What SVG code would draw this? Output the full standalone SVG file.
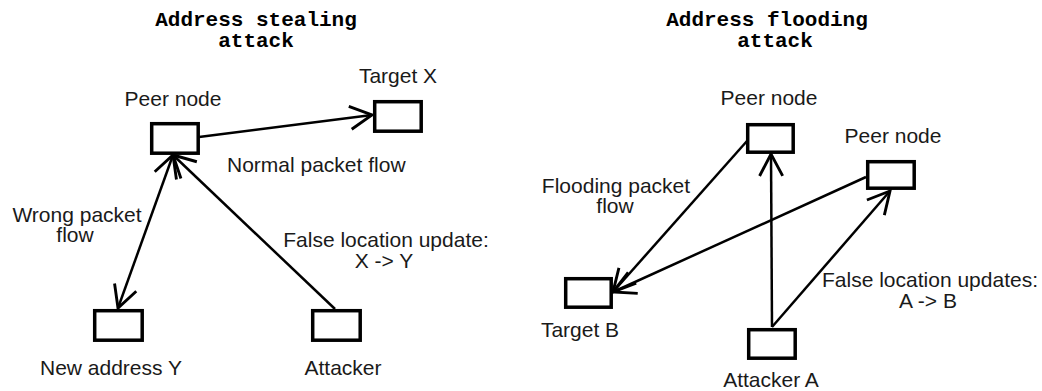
<svg xmlns="http://www.w3.org/2000/svg" width="1042" height="391" viewBox="0 0 1042 391">
  <style>
    .box { fill: #ffffff; stroke: #000000; stroke-width: 3.5; }
    .lbl { font-family: "Liberation Sans", Arial, sans-serif; font-size: 21px; fill: #1a1a1a; text-anchor: middle; }
    .lbl-start { text-anchor: start; }
    .title { font-family: "Liberation Mono", "Courier New", monospace; font-size: 21px; font-weight: bold; fill: #000000; text-anchor: middle; }
    .edge { fill: none; stroke: #000000; stroke-width: 2.5; }
    .arrow { marker-end: url(#open); }
    .both { marker-start: url(#open); marker-end: url(#open); }
  </style>
  <defs>
    <marker id="open" markerUnits="userSpaceOnUse" markerWidth="30" markerHeight="30" viewBox="-22 -12 26 24" refX="0" refY="0" orient="auto-start-reverse">
      <path d="M -19 -10 L 0 0 L -19 10" fill="none" stroke="#000000" stroke-width="2.5"/>
    </marker>
  </defs>
  <rect width="1042" height="391" fill="#ffffff"/>

  <g id="titles">
    <text class="title" x="256" y="26">Address stealing</text>
    <text class="title" x="256" y="47">attack</text>
    <text class="title" x="767" y="26">Address flooding</text>
    <text class="title" x="775" y="47">attack</text>
  </g>

  <g id="connectors">
    <line class="edge arrow" x1="199" y1="137" x2="372" y2="115"/>
    <line class="edge both" x1="173" y1="155" x2="118" y2="308"/>
    <line class="edge arrow" x1="335" y1="309" x2="173" y2="155"/>
    <line class="edge arrow" x1="747" y1="141" x2="613" y2="292"/>
    <line class="edge arrow" x1="866" y1="177" x2="613" y2="292"/>
    <line class="edge arrow" x1="772" y1="327" x2="771" y2="154"/>
    <line class="edge arrow" x1="772" y1="327" x2="890" y2="191"/>
  </g>

  <g id="edge-labels">
    <text class="lbl lbl-start" x="227" y="172">Normal packet flow</text>
    <text class="lbl" x="77" y="222">Wrong packet</text>
    <text class="lbl" x="75" y="242">flow</text>
    <text class="lbl" x="386" y="247">False location update:</text>
    <text class="lbl" x="384" y="268">X -&gt; Y</text>
    <text class="lbl" x="616" y="193">Flooding packet</text>
    <text class="lbl" x="615" y="213">flow</text>
    <text class="lbl" x="930" y="287">False location updates:</text>
    <text class="lbl" x="928" y="308">A -&gt; B</text>
  </g>

  <g id="peer-left">
    <rect class="box" x="151.7" y="123.7" width="46.5" height="29.5"/>
    <text class="lbl" x="173" y="106">Peer node</text>
  </g>
  <g id="target-x">
    <rect class="box" x="374.7" y="101.7" width="46.5" height="29.5"/>
    <text class="lbl" x="398" y="83">Target X</text>
  </g>
  <g id="new-address-y">
    <rect class="box" x="94.7" y="310.7" width="47.5" height="29.5"/>
    <text class="lbl" x="111" y="375">New address Y</text>
  </g>
  <g id="attacker">
    <rect class="box" x="312.7" y="310.7" width="47.5" height="29.5"/>
    <text class="lbl" x="343" y="375">Attacker</text>
  </g>

  <g id="peer-top">
    <rect class="box" x="747.7" y="124.7" width="45.5" height="27.5"/>
    <text class="lbl" x="769" y="105">Peer node</text>
  </g>
  <g id="peer-right">
    <rect class="box" x="867.7" y="161.7" width="46.5" height="26.5"/>
    <text class="lbl" x="893" y="143">Peer node</text>
  </g>
  <g id="target-b">
    <rect class="box" x="565.7" y="278.7" width="45.5" height="28.5"/>
    <text class="lbl" x="580" y="337">Target B</text>
  </g>
  <g id="attacker-a">
    <rect class="box" x="748.7" y="329.7" width="46.5" height="28.5"/>
    <text class="lbl" x="771" y="387">Attacker A</text>
  </g>
</svg>
